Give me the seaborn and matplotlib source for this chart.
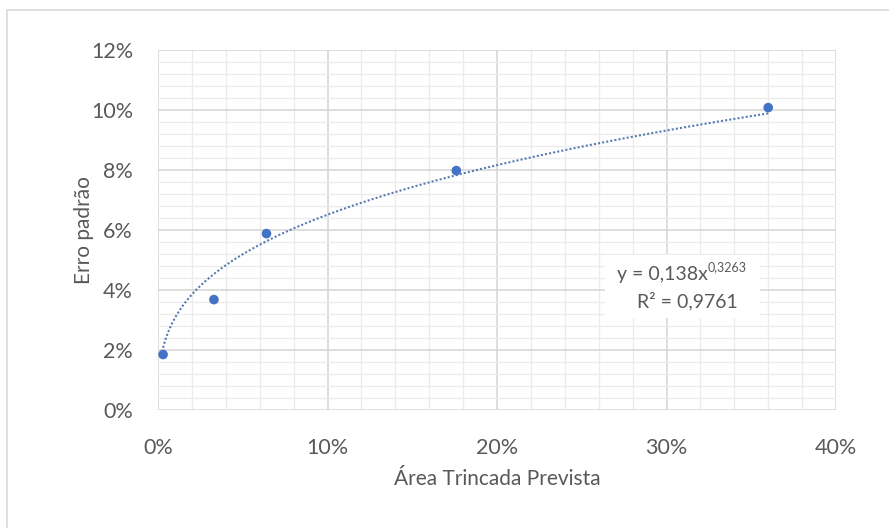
import numpy as np
import pandas as pd
import matplotlib
matplotlib.use("Agg")
import matplotlib.pyplot as plt
from matplotlib.ticker import MultipleLocator, PercentFormatter
from matplotlib.patches import Rectangle
import seaborn as sns

# Observed points (fractions)
area_prevista = [0.003, 0.033, 0.064, 0.176, 0.360]
erro_padrao = [0.0185, 0.0368, 0.0588, 0.0798, 0.1008]

# Power trendline y = a * x^b
coef_a = 0.138
coef_b = 0.3263
eq_main = "y = 0,138x"
eq_exp = "0,3263"
r2_text = "R² = 0,9761"

sns.set_theme(style="white")
plt.rcParams["font.family"] = ["Lato", "DejaVu Sans"]

text_color = "#595959"
fig = plt.figure(figsize=(8.89, 5.28), dpi=100)
ax = fig.add_axes([158 / 889, 1 - 410 / 528, (836 - 158) / 889, (410 - 50) / 528])

# Outer chart frame
fig.patches.append(Rectangle((7 / 889, -0.1), 1.2, 1 - 10 / 528 + 0.1,
                             transform=fig.transFigure, fill=False,
                             edgecolor="#d9d9d9", linewidth=1.2, zorder=0))

df = pd.DataFrame({"x": area_prevista, "y": erro_padrao})
xs = np.linspace(min(area_prevista), max(area_prevista), 400)
trend = pd.DataFrame({"x": xs, "y": coef_a * xs ** coef_b})

sns.lineplot(data=trend, x="x", y="y", ax=ax, color="#5a7bb0",
             linestyle=(0, (1, 1)), linewidth=1.5, zorder=3)
sns.scatterplot(data=df, x="x", y="y", ax=ax, color="#4472c4",
                s=48, edgecolor="none", zorder=4)

ax.set_xlim(0, 0.40)
ax.set_ylim(0, 0.12)
ax.xaxis.set_major_locator(MultipleLocator(0.10))
ax.xaxis.set_minor_locator(MultipleLocator(0.02))
ax.yaxis.set_major_locator(MultipleLocator(0.02))
ax.yaxis.set_minor_locator(MultipleLocator(0.004))
ax.xaxis.set_major_formatter(PercentFormatter(1.0, decimals=0))
ax.yaxis.set_major_formatter(PercentFormatter(1.0, decimals=0))

ax.grid(which="major", color="#d4d4d4", linewidth=1.1)
ax.grid(which="minor", color="#ebebeb", linewidth=0.9)
ax.set_axisbelow(True)
for s in ax.spines.values():
    s.set_visible(False)

ax.tick_params(axis="both", which="both", length=0, labelsize=15.5,
               labelcolor=text_color)
ax.tick_params(axis="x", pad=20)
ax.tick_params(axis="y", pad=18)

ax.set_xlabel("Área Trincada Prevista", fontsize=15, color=text_color, labelpad=8)
ax.set_ylabel("Erro padrão", fontsize=15, color=text_color, labelpad=-2)

# Trendline equation label on a white box
ax.add_patch(Rectangle((0.264, 0.0307), 0.091, 0.021, facecolor="white",
                       edgecolor="none", zorder=2))
t1 = ax.text(0.2708, 0.0452, eq_main, ha="left", va="center", fontsize=14,
             color=text_color, zorder=5)
ax.annotate(eq_exp, xy=(1.0, 0.95), xycoords=t1, ha="left", va="center",
            fontsize=9, color=text_color, zorder=5)
ax.text(0.2826, 0.0363, r2_text, ha="left", va="center", fontsize=14,
        color=text_color, zorder=5)

fig.savefig("out.png", dpi=100)
